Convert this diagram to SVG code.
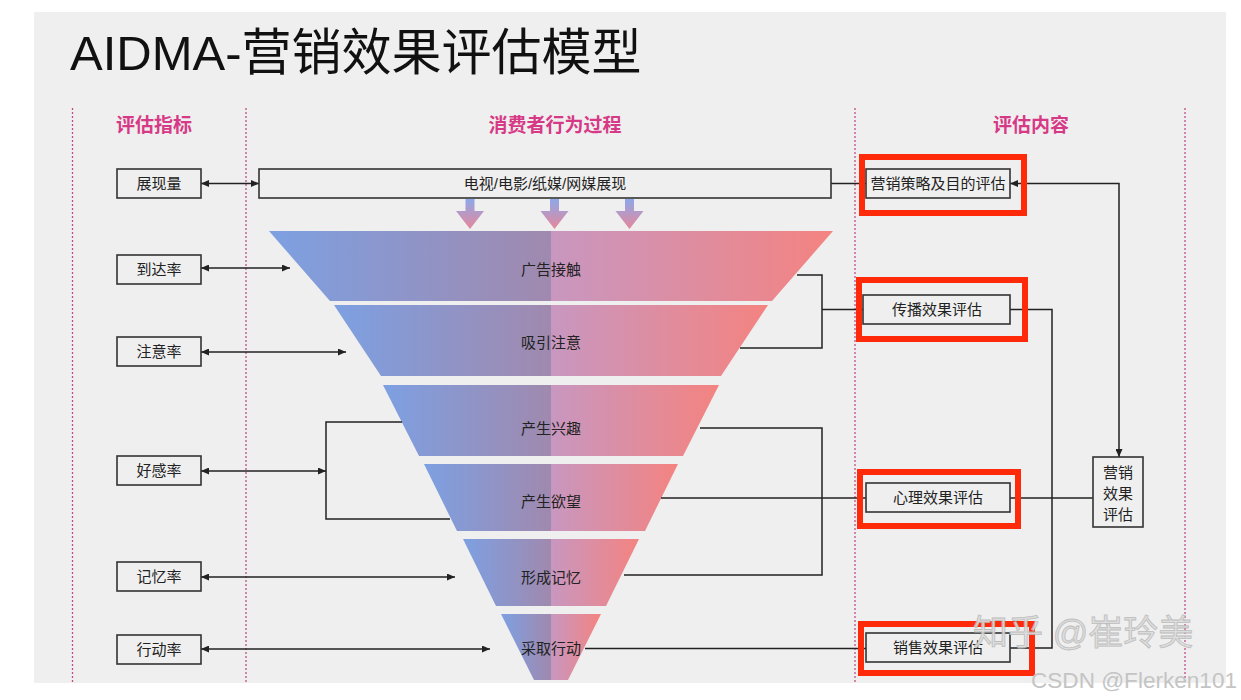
<svg xmlns="http://www.w3.org/2000/svg" width="1241" height="700" viewBox="0 0 1241 700">
  <defs>
    <style>
      .cjk { font-family: "Liberation Sans", "Noto Sans CJK SC", sans-serif; }
      .lbl { font-family: "Liberation Sans", "Noto Sans CJK SC", sans-serif; font-size: 15px; fill: #222; text-anchor: middle; dominant-baseline: central; }
      .hdr { font-family: "Liberation Sans", "Noto Sans CJK SC", sans-serif; font-size: 19px; font-weight: bold; fill: #d63a86; text-anchor: middle; }
      .box { fill: #efefef; stroke: #333; stroke-width: 1.6; }
      .red { fill: none; stroke: #ff2a0a; stroke-width: 6; }
      .ln { fill: none; stroke: #222; stroke-width: 1.5; }
      .dot { stroke: #c24d86; stroke-width: 1.3; stroke-dasharray: 2 2; }
      .seg { fill: url(#fg); }
      .dn { fill: url(#ag); }
    </style>
    <linearGradient id="fg" x1="0" y1="0" x2="1" y2="0">
      <stop offset="0" stop-color="#7da0e2"/>
      <stop offset="0.5" stop-color="#a089ae"/>
      <stop offset="0.5" stop-color="#c897c0"/>
      <stop offset="1" stop-color="#f48380"/>
    </linearGradient>
    <linearGradient id="ag" x1="0" y1="0" x2="0" y2="1">
      <stop offset="0" stop-color="#8ea8ea"/>
      <stop offset="1" stop-color="#e6879a"/>
    </linearGradient>
    <marker id="ah" markerUnits="userSpaceOnUse" markerWidth="8" markerHeight="7" refX="8" refY="3.5" orient="auto-start-reverse">
      <path d="M0,0 L8,3.5 L0,7 z" fill="#222"/>
    </marker>
  </defs>

  <rect x="0" y="0" width="1241" height="700" fill="#ffffff"/>
  <rect x="34" y="12" width="1192" height="671" fill="#efefef"/>

  <text x="70" y="70" class="cjk" fill="#111"><tspan font-size="49">AIDMA-</tspan><tspan font-size="50">营销效果评估模型</tspan></text>

  <g id="dividers">
    <line class="dot" x1="72.5" y1="108" x2="72.5" y2="682"/>
    <line class="dot" x1="246" y1="108" x2="246" y2="682"/>
    <line class="dot" x1="855" y1="108" x2="855" y2="682"/>
    <line class="dot" x1="1185" y1="108" x2="1185" y2="682"/>
  </g>

  <g id="headers">
    <text class="hdr" x="154" y="132">评估指标</text>
    <text class="hdr" x="555" y="132">消费者行为过程</text>
    <text class="hdr" x="1031" y="132">评估内容</text>
  </g>

  <g id="funnel">
    <g id="s1"><polygon class="seg" points="269,231 833,231 772,301 330,301"/><text class="lbl" x="551" y="269">广告接触</text></g>
    <g id="s2"><polygon class="seg" points="334,305 768,305 721,376 381,376"/><text class="lbl" x="551" y="342">吸引注意</text></g>
    <g id="s3"><polygon class="seg" points="383,385 719,385 683,456 419,456"/><text class="lbl" x="551" y="428">产生兴趣</text></g>
    <g id="s4"><polygon class="seg" points="424,464 678,464 645,531 457,531"/><text class="lbl" x="551" y="501">产生欲望</text></g>
    <g id="s5"><polygon class="seg" points="463,539 639,539 606,606 496,606"/><text class="lbl" x="551" y="577">形成记忆</text></g>
    <g id="s6"><polygon class="seg" points="501,614 601,614 568,680 534,680"/><text class="lbl" x="551" y="648">采取行动</text></g>
  </g>

  <g id="downarrows">
    <polygon class="dn" points="465.5,199 474.5,199 474.5,211 484,211 470,229 456,211 465.5,211"/>
    <polygon class="dn" points="550,199 559,199 559,211 568.5,211 554.5,229 540.5,211 550,211"/>
    <polygon class="dn" points="625,199 634,199 634,211 643.5,211 629.5,229 615.5,211 625,211"/>
  </g>

  <g id="connectors">
    <path class="ln" d="M201,183.5 H259" marker-start="url(#ah)" marker-end="url(#ah)"/>
    <path class="ln" d="M201,268 H290" marker-start="url(#ah)" marker-end="url(#ah)"/>
    <path class="ln" d="M201,352 H346" marker-start="url(#ah)" marker-end="url(#ah)"/>
    <path class="ln" d="M201,471 H326" marker-start="url(#ah)" marker-end="url(#ah)"/>
    <path class="ln" d="M201,577 H455" marker-start="url(#ah)" marker-end="url(#ah)"/>
    <path class="ln" d="M201,649 H490" marker-start="url(#ah)" marker-end="url(#ah)"/>
    <path class="ln" d="M402,422 H326 V519 H450"/>
    <path class="ln" d="M831,183.5 H866"/>
    <path class="ln" d="M1119,457 V183.5 H1010" marker-start="url(#ah)" marker-end="url(#ah)"/>
    <path class="ln" d="M797,275 H822 V348 H740"/>
    <path class="ln" d="M822,309.5 H863"/>
    <path class="ln" d="M1010,309.5 H1052 V648 H1010"/>
    <path class="ln" d="M1010,498 H1093"/>
    <path class="ln" d="M700,428 H822 V575 H624"/>
    <path class="ln" d="M661,498 H866"/>
    <path class="ln" d="M585,648.5 H866"/>
  </g>

  <g id="n-zhanxianliang"><rect class="box" x="117" y="169" width="84" height="29"/><text class="lbl" x="159" y="183.5">展现量</text></g>
  <g id="n-daodalv"><rect class="box" x="117" y="255" width="84" height="29"/><text class="lbl" x="159" y="269.5">到达率</text></g>
  <g id="n-zhuyilv"><rect class="box" x="117" y="337" width="84" height="29"/><text class="lbl" x="159" y="351.5">注意率</text></g>
  <g id="n-haoganlv"><rect class="box" x="117" y="456" width="84" height="29"/><text class="lbl" x="159" y="470.5">好感率</text></g>
  <g id="n-jiyilv"><rect class="box" x="117" y="562" width="84" height="29"/><text class="lbl" x="159" y="576.5">记忆率</text></g>
  <g id="n-xingdonglv"><rect class="box" x="117" y="635" width="84" height="29"/><text class="lbl" x="159" y="649.5">行动率</text></g>

  <g id="n-media"><rect class="box" x="259" y="169" width="572" height="29"/><text class="lbl" x="545" y="183.5">电视/电影/纸媒/网媒展现</text></g>

  <g id="n-celue"><rect class="box" x="866" y="169" width="144" height="29"/><text class="lbl" x="938" y="183.5">营销策略及目的评估</text><rect class="red" x="862" y="157" width="162" height="56"/></g>
  <g id="n-chuanbo"><rect class="box" x="863" y="295" width="147" height="29"/><text class="lbl" x="937" y="309.5">传播效果评估</text><rect class="red" x="859" y="280" width="166" height="59"/></g>
  <g id="n-xinli"><rect class="box" x="866" y="483" width="144" height="29"/><text class="lbl" x="938" y="497.5">心理效果评估</text><rect class="red" x="860" y="472" width="158" height="54"/></g>
  <g id="n-xiaoshou"><rect class="box" x="866" y="633" width="144" height="29"/><text class="lbl" x="938" y="647.5">销售效果评估</text><rect class="red" x="861" y="624" width="171" height="49"/></g>

  <g id="n-yingxiao"><rect class="box" x="1093" y="457" width="50" height="70"/>
    <text class="lbl" x="1118" y="472">营销</text>
    <text class="lbl" x="1118" y="493">效果</text>
    <text class="lbl" x="1118" y="514">评估</text>
  </g>

  <text x="973" y="645" class="cjk" font-size="35" fill="#dcdcdc" stroke="#b8b8b8" stroke-width="0.8" opacity="0.9">知乎 @崔玲美</text>
  <text x="1031" y="688" font-family="Liberation Sans, sans-serif" font-size="22" textLength="206" lengthAdjust="spacingAndGlyphs" fill="#c4c4c4">CSDN @Flerken101</text>
</svg>
